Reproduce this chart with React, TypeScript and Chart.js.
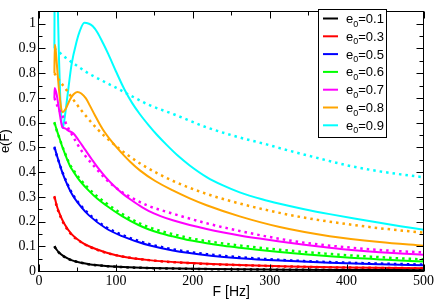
import React, { useEffect, useRef } from "react";
import { Chart, registerables } from "chart.js";

Chart.register(...registerables);

// ---------- axis / tick values ----------
const X_MIN = 0;
const X_MAX = 500;
const X_MAJOR = [0, 100, 200, 300, 400, 500];
const X_MINOR = [50, 150, 250, 350, 450];
const Y_MIN = 0;
const Y_MAX = 1.05;
const Y_MAJOR = [0, 0.1, 0.2, 0.3, 0.4, 0.5, 0.6, 0.7, 0.8, 0.9, 1.0];
const Y_MINOR = [0.05, 0.15, 0.25, 0.35, 0.45, 0.55, 0.65, 0.75, 0.85, 0.95];
const X_TITLE = "F [Hz]";
const Y_TITLE = "e(F)";

// ---------- legend ----------
const E0_LABELS = ["0.1", "0.3", "0.5", "0.6", "0.7", "0.8", "0.9"];
const COLORS = ["#000000", "#ff0000", "#0000ff", "#00ff00", "#ff00ff", "#ffa500", "#00ffff"];

// ---------- e0 = 0.1 (black) ----------
const BLACK_SOLID_F = [20, 23, 26, 32.5, 43, 55, 65, 87, 110, 143, 200, 260, 320, 400, 500];
const BLACK_SOLID_E = [0.1, 0.086, 0.075, 0.059, 0.043, 0.033, 0.027, 0.02, 0.016, 0.0125, 0.0088, 0.0067, 0.0054, 0.0043, 0.0034];
const BLACK_DOT_F = [20, 23, 26, 32.5, 43, 55, 65, 87, 110, 143, 200, 260, 320, 400, 500];
const BLACK_DOT_E = [0.1, 0.085, 0.074, 0.058, 0.043, 0.033, 0.027, 0.02, 0.0155, 0.012, 0.0085, 0.0065, 0.0052, 0.0041, 0.0033];

// ---------- e0 = 0.3 (red) ----------
const RED_SOLID_F = [20, 23, 26, 32.5, 43, 55, 65, 87, 108, 143, 200, 260, 326, 400, 500];
const RED_SOLID_E = [0.303, 0.265, 0.238, 0.193, 0.147, 0.117, 0.1, 0.075, 0.059, 0.044, 0.032, 0.024, 0.018, 0.014, 0.011];
const RED_DOT_F = [20, 23, 26, 32.5, 43, 55, 65, 87, 108, 143, 200, 260, 326, 400, 500];
const RED_DOT_E = [0.3, 0.262, 0.235, 0.19, 0.145, 0.116, 0.099, 0.074, 0.059, 0.044, 0.031, 0.024, 0.018, 0.014, 0.011];

// ---------- e0 = 0.5 (blue) ----------
const BLUE_SOLID_F = [20, 23, 26, 29.4, 32.5, 43, 55, 65, 87, 108, 130, 143, 174, 218, 261, 313, 378, 443, 500];
const BLUE_SOLID_E = [0.503, 0.47, 0.44, 0.407, 0.381, 0.31, 0.258, 0.225, 0.173, 0.141, 0.116, 0.104, 0.083, 0.064, 0.052, 0.042, 0.033, 0.027, 0.023];
const BLUE_DOT_F = [20, 23, 26, 29.4, 32.5, 43, 55, 65, 87, 108, 130, 143, 174, 218, 261, 313, 378, 443, 500];
const BLUE_DOT_E = [0.5, 0.468, 0.44, 0.409, 0.384, 0.314, 0.263, 0.23, 0.178, 0.146, 0.121, 0.109, 0.088, 0.068, 0.056, 0.045, 0.036, 0.03, 0.026];

// ---------- e0 = 0.6 (green) ----------
const GREEN_SOLID_F = [20, 22.5, 25, 27.3, 30, 33.8, 37, 40.3, 44.6, 50, 55, 65, 76, 87, 108, 130, 143, 158, 174, 196, 218, 240, 261, 287, 313, 345, 378, 410, 443, 470, 500];
const GREEN_SOLID_E = [0.603, 0.576, 0.552, 0.531, 0.505, 0.474, 0.448, 0.425, 0.403, 0.378, 0.358, 0.324, 0.292, 0.266, 0.222, 0.185, 0.168, 0.153, 0.14, 0.124, 0.112, 0.102, 0.094, 0.085, 0.077, 0.068, 0.06, 0.053, 0.047, 0.042, 0.038];
const GREEN_DOT_F = [20, 22.5, 25, 27.3, 30, 33.8, 37, 40.3, 44.6, 50, 55, 65, 76, 87, 108, 130, 143, 158, 174, 196, 218, 240, 261, 287, 313, 345, 378, 410, 443, 470, 500];
const GREEN_DOT_E = [0.6, 0.574, 0.551, 0.531, 0.507, 0.477, 0.452, 0.43, 0.409, 0.385, 0.366, 0.332, 0.301, 0.275, 0.231, 0.194, 0.177, 0.162, 0.149, 0.133, 0.121, 0.111, 0.103, 0.094, 0.086, 0.077, 0.069, 0.062, 0.056, 0.051, 0.047];

// ---------- e0 = 0.7 (magenta) ----------
const MAGENTA_SOLID_F = [20, 20.4, 23, 25, 27.3, 30.3, 33.8, 38, 44.6, 51, 59.7, 68.4, 77, 86.6, 97, 108, 119, 130, 143, 158, 174, 196, 218, 240, 261, 287, 313, 345, 378, 410, 443, 470, 500];
const MAGENTA_SOLID_E = [0.7, 0.74, 0.714, 0.675, 0.629, 0.583, 0.577, 0.568, 0.557, 0.531, 0.492, 0.453, 0.416, 0.38, 0.346, 0.315, 0.289, 0.266, 0.242, 0.222, 0.205, 0.186, 0.17, 0.156, 0.144, 0.131, 0.119, 0.106, 0.094, 0.084, 0.076, 0.071, 0.066];
const MAGENTA_DOT_F = [20, 25, 30.3, 37.2, 44, 50.2, 55.4, 60.6, 72.7, 85, 96.5, 120, 142, 174, 218, 261, 313, 356, 400, 443, 500];
const MAGENTA_DOT_E = [0.7, 0.66, 0.629, 0.583, 0.545, 0.512, 0.486, 0.464, 0.42, 0.378, 0.345, 0.297, 0.264, 0.232, 0.193, 0.162, 0.13, 0.11, 0.096, 0.085, 0.075];

// ---------- e0 = 0.8 (orange) ----------
const ORANGE_SOLID_F = [20, 20.6, 21.5, 24.2, 27.3, 30.3, 34.6, 40.3, 45, 49.8, 55, 61, 66, 72.7, 79, 85.7, 96, 107.4, 118.2, 131.2, 150.6, 174, 196, 218, 261, 313, 378, 443, 500];
const ORANGE_SOLID_E = [0.8, 0.915, 0.9, 0.798, 0.694, 0.642, 0.655, 0.694, 0.715, 0.724, 0.718, 0.698, 0.67, 0.63, 0.594, 0.56, 0.518, 0.478, 0.443, 0.407, 0.365, 0.326, 0.294, 0.266, 0.221, 0.178, 0.141, 0.117, 0.102];
const ORANGE_DOT_F = [20, 24, 28, 34.6, 39.4, 48.9, 54.5, 59.7, 65.3, 71.8, 77.9, 84.8, 98.7, 112.6, 134.6, 174.4, 217.8, 261, 313, 356, 400, 443, 500];
const ORANGE_DOT_E = [0.8, 0.782, 0.764, 0.737, 0.716, 0.675, 0.652, 0.632, 0.611, 0.588, 0.568, 0.547, 0.509, 0.475, 0.429, 0.364, 0.312, 0.273, 0.235, 0.21, 0.19, 0.173, 0.155];

// ---------- e0 = 0.9 (cyan) ----------
const CYAN_SOLID_F = [20, 20.5, 23.5, 24.6, 26, 27.3, 28.7, 30.3, 31.5, 33.8, 38, 42.4, 48.9, 53, 58.9, 65, 70, 76, 83.5, 90, 100, 111, 121, 131, 143, 153, 166, 180, 196, 218, 240, 261, 290, 313, 345, 378, 410, 443, 470, 500];
const CYAN_SOLID_E = [0.9, 1.2, 1.2, 1.05, 0.86, 0.73, 0.63, 0.578, 0.585, 0.629, 0.733, 0.837, 0.928, 0.97, 1.004, 1.0, 0.99, 0.965, 0.92, 0.878, 0.808, 0.735, 0.68, 0.635, 0.588, 0.552, 0.51, 0.468, 0.427, 0.38, 0.345, 0.318, 0.29, 0.272, 0.25, 0.23, 0.212, 0.195, 0.181, 0.167];
const CYAN_DOT_F = [20, 27, 35, 48, 56, 64, 72, 79, 87, 100, 111, 125, 142, 176, 218, 261, 296, 313, 356, 400, 443, 500];
const CYAN_DOT_E = [0.9, 0.883, 0.862, 0.833, 0.816, 0.8, 0.786, 0.775, 0.762, 0.742, 0.723, 0.7, 0.673, 0.633, 0.581, 0.54, 0.512, 0.497, 0.462, 0.428, 0.403, 0.379];

const SOLID_F = [BLACK_SOLID_F, RED_SOLID_F, BLUE_SOLID_F, GREEN_SOLID_F, MAGENTA_SOLID_F, ORANGE_SOLID_F, CYAN_SOLID_F];
const SOLID_E = [BLACK_SOLID_E, RED_SOLID_E, BLUE_SOLID_E, GREEN_SOLID_E, MAGENTA_SOLID_E, ORANGE_SOLID_E, CYAN_SOLID_E];
const DOT_F = [BLACK_DOT_F, RED_DOT_F, BLUE_DOT_F, GREEN_DOT_F, MAGENTA_DOT_F, ORANGE_DOT_F, CYAN_DOT_F];
const DOT_E = [BLACK_DOT_E, RED_DOT_E, BLUE_DOT_E, GREEN_DOT_E, MAGENTA_DOT_E, ORANGE_DOT_E, CYAN_DOT_E];

const SERIF = "'Liberation Serif', 'Times New Roman', serif";
const SANS = "'Liberation Sans', Arial, sans-serif";

function pts(F: number[], E: number[]) {
  return F.map((f, i) => ({ x: f, y: E[i] }));
}

const frameTicksLegend = {
  id: "frameTicksLegend",
  afterDraw(chart: any) {
    const { ctx, chartArea: a, scales } = chart;
    const xs = scales.x;
    const ys = scales.y;
    ctx.save();
    ctx.strokeStyle = "#000";
    ctx.lineWidth = 1;
    const L = Math.round(a.left) - 0.5;
    const R = Math.round(a.right) - 0.5;
    const T = Math.round(a.top) + 0.5;
    const B = Math.round(a.bottom) + 0.5;
    ctx.strokeRect(L, T, R - L, B - T);
    ctx.beginPath();
    const xt = (v: number, len: number) => {
      const p = Math.round(xs.getPixelForValue(v)) + 0.5;
      ctx.moveTo(p, B);
      ctx.lineTo(p, B - len);
      ctx.moveTo(p, T);
      ctx.lineTo(p, T + len);
    };
    const yt = (v: number, len: number) => {
      const p = Math.round(ys.getPixelForValue(v)) + 0.5;
      ctx.moveTo(L, p);
      ctx.lineTo(L + len, p);
      ctx.moveTo(R, p);
      ctx.lineTo(R - len, p);
    };
    X_MAJOR.forEach((v) => xt(v, 7));
    X_MINOR.forEach((v) => xt(v, 4));
    Y_MAJOR.forEach((v) => yt(v, 7));
    Y_MINOR.forEach((v) => yt(v, 4));
    ctx.stroke();

    // legend box
    const bx = 318.5, by = 9.5, bw = 68, bh = 128;
    ctx.fillStyle = "#fff";
    ctx.fillRect(bx, by, bw, bh);
    ctx.strokeRect(bx, by, bw, bh);
    const rowY0 = 18.5;
    const rowH = 17.8;
    E0_LABELS.forEach((lab, i) => {
      const cy = rowY0 + i * rowH;
      ctx.strokeStyle = COLORS[i];
      ctx.lineWidth = 2;
      ctx.beginPath();
      ctx.moveTo(323, cy);
      ctx.lineTo(338, cy);
      ctx.stroke();
      ctx.fillStyle = "#000";
      ctx.textBaseline = "alphabetic";
      ctx.textAlign = "left";
      let x = 346;
      const base = cy + 4.5;
      ctx.font = `13px ${SANS}`;
      ctx.fillText("e", x, base);
      x += ctx.measureText("e").width;
      ctx.font = `9px ${SANS}`;
      ctx.fillText("0", x, base + 3.5);
      x += ctx.measureText("0").width;
      ctx.font = `13px ${SANS}`;
      ctx.fillText("=" + lab, x, base);
    });
    ctx.restore();
  },
};

export default function App() {
  const ref = useRef<HTMLCanvasElement | null>(null);
  useEffect(() => {
    if (!ref.current) return;
    const datasets: any[] = [];
    COLORS.forEach((c, i) => {
      datasets.push({
        label: "e0=" + E0_LABELS[i],
        data: pts(SOLID_F[i], SOLID_E[i]),
        borderColor: c,
        backgroundColor: c,
        borderWidth: 2,
        pointRadius: 0,
        fill: false,
        cubicInterpolationMode: "monotone",
        clip: 0,
      });
      datasets.push({
        label: "e0=" + E0_LABELS[i] + " (approx.)",
        data: pts(DOT_F[i], DOT_E[i]),
        borderColor: c,
        backgroundColor: c,
        borderWidth: 2.5,
        borderDash: [2.5, 4],
        borderCapStyle: "butt",
        pointRadius: 0,
        fill: false,
        cubicInterpolationMode: "monotone",
        clip: 0,
      });
    });
    const chart = new Chart(ref.current, {
      type: "line",
      data: { datasets },
      options: {
        animation: false,
        responsive: false,
        devicePixelRatio: 1,
        layout: { padding: { top: 2, right: 12, left: 0, bottom: 0 } },
        plugins: { legend: { display: false }, tooltip: { enabled: false } },
        scales: {
          x: {
            type: "linear",
            min: X_MIN,
            max: X_MAX,
            afterFit: (s: any) => {
              s.height = 33;
            },
            afterBuildTicks: (s: any) => {
              s.ticks = X_MAJOR.map((v) => ({ value: v }));
            },
            grid: { display: false, drawTicks: false },
            border: { display: false },
            ticks: {
              padding: 2,
              maxRotation: 0,
              autoSkip: false,
              color: "#000",
              font: { family: SERIF, size: 14 },
              callback: (v: any) => String(Math.round(Number(v))),
            },
            title: {
              display: true,
              text: X_TITLE,
              color: "#000",
              font: { family: SANS, size: 14 },
              padding: { top: 0, bottom: 3 },
            },
          },
          y: {
            type: "linear",
            min: Y_MIN,
            max: Y_MAX,
            afterFit: (s: any) => {
              s.width = 39;
            },
            afterBuildTicks: (s: any) => {
              s.ticks = Y_MAJOR.map((v) => ({ value: v }));
            },
            grid: { display: false, drawTicks: false },
            border: { display: false },
            ticks: {
              padding: 3,
              autoSkip: false,
              color: "#000",
              font: { family: SERIF, size: 14 },
              callback: (v: any) => String(Number(Number(v).toFixed(1))),
            },
            title: {
              display: true,
              text: Y_TITLE,
              color: "#000",
              font: { family: SANS, size: 13 },
              padding: { top: -2, bottom: 0 },
            },
          },
        },
      },
      plugins: [frameTicksLegend],
    });
    return () => chart.destroy();
  }, []);
  return (
    <div style={{ position: "fixed", left: 0, top: 0, width: 436, height: 304, background: "#fff" }}>
      <canvas ref={ref} width={436} height={304} style={{ display: "block", width: 436, height: 304 }} />
    </div>
  );
}
